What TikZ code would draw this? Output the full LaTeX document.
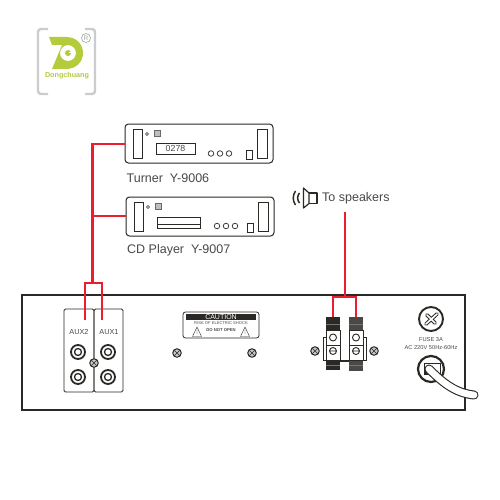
\documentclass[tikz,border=0pt]{standalone}
\usepackage{fontspec}
\setmainfont{Liberation Sans}
\usetikzlibrary{calc}
\definecolor{wirered}{HTML}{ED1C2E}
\definecolor{logogreen}{HTML}{B4CB3C}
\definecolor{logogrey}{HTML}{C9CDCF}
\definecolor{ink}{HTML}{2B2926}
\tikzset{
  wire/.style={draw=wirered,line width=2.4pt},
  device/.style={draw=ink,line width=1pt,rounded corners=3.5pt,minimum width=148pt,minimum height=39pt,inner sep=0pt,outer sep=0pt},
  part/.style={draw=ink,line width=0.8pt},
  lab/.style={text=ink!85,inner sep=0pt},
  biglab/.style={lab,font=\fontsize{12.5}{14}\selectfont},
  knob/.style={circle,draw=ink,line width=0.7pt,minimum size=5.5pt,inner sep=0pt},
  jack/.style={circle,draw=ink,line width=1.8pt,minimum size=14pt,inner sep=0pt,fill=white},
  screw/.style={circle,draw=ink,line width=1pt,minimum size=8.5pt,inner sep=0pt,fill=ink!25,path picture={
    \draw[ink,line width=0.6pt] (path picture bounding box.north west)--(path picture bounding box.south east)
    (path picture bounding box.north east)--(path picture bounding box.south west);}},
  plate/.style={draw=ink,line width=0.9pt,rounded corners=1.5pt,inner sep=0pt,outer sep=0pt},
}
\newcommand{\jackat}[2]{\node[jack] (#1) at (#2) {};\node[circle,draw=ink,line width=1.3pt,minimum size=7pt,inner sep=0pt] at (#1) {};}
\newcommand{\unitparts}[2]{%
  \begin{scope}[shift={(#1,#2)}]
    \draw[part] (8,5) rectangle (17,34);
    \draw[part] (132,5) rectangle (142,34);
    \draw[part] (121,26.5) rectangle (127,35);
    \node[draw=ink!70,line width=0.4pt,fill=ink!30,minimum size=6pt,inner sep=0pt] at (32,9) {};
    \draw[ink,line width=0.5pt] (20.5,10) -- ++(1.5,-1.5) -- ++(1.5,1.5) -- ++(-1.5,1.5) -- cycle;
  \end{scope}}
\begin{document}
\begin{tikzpicture}[x=1pt,y=-1pt,font=\fontsize{9}{11}\selectfont]
\useasboundingbox[fill=white] (0,0) rectangle (500,500);
% logo
\draw[logogrey,line width=2.4pt,rounded corners=3pt] (48,29) -- (38,29) -- (38,94) -- (48,94);
\draw[logogrey,line width=2.4pt,rounded corners=3pt] (85,29) -- (95,29) -- (95,94) -- (85,94);
\fill[logogreen,even odd rule] (49,37) -- (66,37) .. controls (77,37) and (83,45) .. (83,53) .. controls (83,62) and (76,69) .. (66,69) -- (52,69) -- (62,45) -- (52,45) -- cycle
  (68,53) circle (8);
\fill[logogreen] (68,53) circle (3);
\fill[white] (68.5,52.4) rectangle (73,53.4);
\node[circle,draw=logogrey!80!black,line width=0.6pt,inner sep=0pt,minimum size=9pt,text=logogrey!80!black,font=\fontsize{6.5}{7}\selectfont] (reg) at (86,38) {R};
\node[text=logogreen,inner sep=0pt,font=\bfseries\fontsize{7.2}{8}\selectfont] (brand) at (67,76) {Dongchuang};
% devices
\node[device,anchor=north west] (tuner) at (125,124) {};
\node[device,anchor=north west] (cd) at (126,197) {};
\unitparts{125}{124}
\unitparts{126}{197}
\node[draw=ink,line width=0.8pt,minimum width=39pt,minimum height=11pt,inner sep=0pt,lab,font=\fontsize{8.8}{10}\selectfont] (disp) at (175.5,148.5) {0278};
\draw[part] (157,217) rectangle (200,228);
\draw[part] (157,224.5) -- (200,224.5);
\foreach \nm/\x in {a/211,b/220,c/229} \node[knob] (t\nm) at (\x,153.5) {};
\foreach \nm/\x in {a/217,b/226,c/235} \node[knob] (d\nm) at (\x,226) {};
\node[biglab,anchor=west] (tunerlab) at (126.5,178) {Turner\ \ Y-9006};
\node[biglab,anchor=west] (cdlab) at (127,250.5) {CD Player\ \ Y-9007};
% rear panel
\node[draw=ink,line width=1.9pt,minimum width=443pt,minimum height=115pt,inner sep=0pt,anchor=north west] (panel) at (21,294) {};
% aux
\node[plate,minimum width=30pt,minimum height=83pt,anchor=north west] (aux2) at (64,309) {};
\node[plate,minimum width=29pt,minimum height=83pt,anchor=north west] (aux1) at (94,309) {};
\node[lab,font=\fontsize{7.3}{8}\selectfont] at (79,332) {AUX2};
\node[lab,font=\fontsize{7.3}{8}\selectfont] at (109,332) {AUX1};
\jackat{j1}{78,352}
\jackat{j2}{108,352}
\jackat{j3}{78,377}
\jackat{j4}{108,377}
\node[screw] (s0) at (94,363) {};
% caution
\node[plate,line width=0.8pt,rounded corners=2.5pt,minimum width=76pt,minimum height=26pt,anchor=north west] (caution) at (183,312) {};
\node[fill=ink,text=white,minimum width=70pt,minimum height=6.5pt,inner sep=0pt,font=\fontsize{7}{6}\selectfont] at (221,316.8) {CAUTION};
\node[lab,font=\fontsize{4.1}{4}\selectfont] at (221,323.5) {RISK OF ELECTRIC SHOCK};
\node[lab,font=\bfseries\fontsize{4.2}{4}\selectfont] at (221,330.5) {DO NOT OPEN};
\foreach \x in {197,245} \draw[ink,line width=0.4pt] (\x,327) -- (\x+4.5,336.5) -- (\x-4.5,336.5) -- cycle (\x,330) -- (\x,334);
\node[screw] (s1) at (177,353) {};
\node[screw] (s2) at (252,353) {};
% speaker terminals
\draw[ink,line width=0.8pt] (323.5,337) rectangle (366,360);
\fill[white] (326,330) rectangle (363,361);
\node[fill=ink,minimum width=14.5pt,minimum height=13pt,inner sep=0pt,anchor=north] (tl) at (333,317) {};
\node[fill=ink!85,minimum width=14.5pt,minimum height=13pt,inner sep=0pt,anchor=north] (tr) at (356,317) {};
\draw[part] (326,330) rectangle (340,360) (326,345) -- (340,345);
\draw[part] (349,330) rectangle (363,360) (349,345) -- (363,345);
\draw[ink,line width=1.3pt] (340,361) -- (349,361);
\fill[ink] (326,361) rectangle (340,370);
\fill[ink!85] (349,361) rectangle (363,371);
\foreach \x in {333,356} {\draw[ink,line width=0.9pt] (\x,337.5) circle (3.5) (\x,351) circle (3.5) (\x-3.5,351) -- (\x+3.5,351);}
\foreach \y in {324,365} \draw[ink!65,line width=0.2pt] (326,\y) -- (340,\y) (349,\y) -- (363,\y);
\node[screw] (s3) at (315,351) {};
\node[screw] (s4) at (374,351) {};
% speaker icon and text
\draw[ink,line width=1.2pt,line join=round] (309,193) -- (317,193) -- (317,203.5) -- (309,203.5);
\draw[ink,line width=1.2pt,line join=round] (309,193) -- (303.5,188) -- (303.5,208) -- (309,203.5) -- cycle;
\draw[ink,line width=1.5pt] (295.5,191) .. controls (292.5,195) and (292.5,201) .. (295.5,205);
\draw[ink,line width=1.5pt] (299.5,193) .. controls (297,196) and (297,200) .. (299.5,203);
\node[biglab,anchor=west] (spk) at (322,198) {To speakers};
% fuse
\node[circle,draw=ink,line width=1.9pt,minimum size=24pt,inner sep=0pt] (fuse) at (431,319) {};
\draw[ink,line width=3.6pt,line cap=round] (426,324) -- (437,314) (427,315) -- (435,323);
\draw[white,line width=1.6pt,line cap=round] (426,324) -- (437,314) (427,315) -- (435,323);
\node[lab,font=\fontsize{5.7}{6}\selectfont] at (431,340) {FUSE 3A};
\node[lab,font=\fontsize{5.7}{6}\selectfont] at (431,347.5) {AC 220V 50Hz-60Hz};
\node[circle,draw=ink,line width=2.2pt,minimum size=26pt,inner sep=0pt] (socket) at (431,369) {};
\draw[part] (424,363) rectangle (440,374);
\fill[ink] (424,370) rectangle (432,374);
\draw[ink,line width=9pt,line cap=round] (429,369) .. controls (444,384) and (456,393) .. (474,395);
\draw[white,line width=6.8pt,line cap=round] (429,369) .. controls (444,384) and (456,393) .. (474,395);
% wires
\coordinate (w1) at (92.5,144);
\coordinate (w2) at (92.5,216);
\coordinate (w3) at (92.5,283);
\coordinate (a2) at (85,320);
\coordinate (a1) at (102,320);
\draw[wire] (tuner.west |- w1) -- (w1) -- (w3);
\draw[wire] (cd.west |- w2) -- (w2);
\draw[wire] (a2) -- (85,283) -- (102,283) -- (a1);
\coordinate (sp0) at (345,212);
\coordinate (sp1) at (345,297);
\draw[wire] (sp0) -- (sp1);
\draw[wire] (tl.north) -- (tl.north |- sp1) -- (tr.north |- sp1) -- (tr.north);
\end{tikzpicture}
\end{document}
